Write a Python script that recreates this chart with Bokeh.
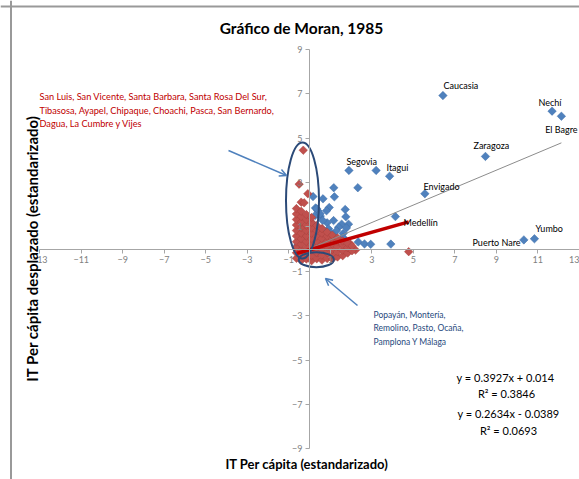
import math
from bokeh.plotting import figure
from bokeh.models import Range1d, FixedTicker, Label, Arrow, OpenHead, Span
from bokeh.embed import file_html
from bokeh.resources import INLINE

# ---------------- data ----------------
title_text = "Gráfico de Moran, 1985"
x_label = "IT Per cápita  (estandarizado)"
y_label = "IT Per cápita desplazado (estandarizado)"

x_ticks = [-13, -11, -9, -7, -5, -3, -1, 1, 3, 5, 7, 9, 11, 13]
y_ticks = [-9, -7, -5, -3, -1, 1, 3, 5, 7, 9]

# blue series (1985)
blue_x = [6.43, 11.69, 12.14, 8.48, 1.90, 3.21, 3.86, 1.17, 2.33, 5.56,
          0.17, 0.65, 1.20, 0.29, 0.40, 0.95, 0.82, 1.72, 0.52, 1.75,
          4.14, 0.85, 1.55, 1.88, 0.62, 1.40, 1.78, 1.17, 1.62, 1.62,
          2.35, 2.65, 2.95, 3.92, 10.33, 10.84, 0.35, 0.27, 0.51, 0.64,
          0.92, 1.16, 1.30, 1.05, -0.55, -0.20, 0.10, 0.40, 0.20, 0.70,
          -0.40, 0.00, -0.62]
blue_y = [6.91, 6.21, 5.98, 4.17, 3.54, 3.54, 3.28, 2.76, 2.76, 2.49,
          2.36, 2.26, 2.35, 1.85, 1.72, 1.87, 1.72, 1.78, 1.48, 1.45,
          1.46, 1.18, 1.12, 1.12, 0.90, 0.98, 0.95, 0.60, 0.70, 0.52,
          0.32, 0.23, 0.21, 0.22, 0.41, 0.46, 1.81, 1.51, 1.59, 1.28,
          0.91, 1.28, 0.82, 0.72, 0.20, 0.60, 0.30, -0.20, 1.10, 0.40,
          -0.30, 0.80, 0.10]

# red series
red_x = [-0.30, -0.50, -0.08, -0.40, -0.26, 1.97, 2.22, 4.78, -0.53, -0.47,
         -0.63, -0.63, -0.63, -0.63, -0.63, -0.63, -0.63, -0.63, -0.63, -0.63,
         -0.40, -0.40, -0.40, -0.40, -0.40, -0.40, -0.40, -0.40, -0.40, -0.40,
         -0.15, -0.15, -0.15, -0.15, -0.15, -0.15, -0.15, -0.15, -0.15,
         0.10, 0.10, 0.10, 0.10, 0.10, 0.10, 0.10, 0.10, 0.10,
         0.35, 0.35, 0.35, 0.35, 0.35, 0.35, 0.35,
         0.60, 0.60, 0.60, 0.60, 0.60, 0.60, 0.60,
         0.85, 0.85, 0.85, 0.85, 0.85, 0.85,
         1.10, 1.10, 1.10, 1.10, 1.10, 1.10,
         1.35, 1.35, 1.35, 1.35, 1.35,
         1.60, 1.60, 1.60, 1.60,
         1.84, 1.84, 1.84,
         2.05, 2.05]
red_y = [4.45, 2.92, 2.49, 2.11, 2.08, 0.22, -0.05, -0.12, 1.62, 1.28,
         -0.42, -0.17, 0.08, 0.33, 0.58, 0.83, 1.08, 1.33, 1.58, 1.82,
         -0.52, -0.29, -0.04, 0.21, 0.46, 0.71, 0.96, 1.21, 1.46, 1.70,
         -0.45, -0.18, 0.07, 0.33, 0.58, 0.83, 1.07, 1.32, 1.55,
         -0.53, -0.29, -0.04, 0.21, 0.46, 0.71, 0.95, 1.20, 1.42,
         -0.44, -0.17, 0.08, 0.34, 0.58, 0.82, 1.06,
         -0.50, -0.28, -0.03, 0.22, 0.47, 0.71, 0.92,
         -0.43, -0.16, 0.09, 0.34, 0.58, 0.76,
         -0.45, -0.27, -0.02, 0.22, 0.45, 0.62,
         -0.36, -0.12, 0.12, 0.36, 0.50,
         -0.30, -0.05, 0.18, 0.36,
         -0.18, 0.06, 0.26,
         -0.08, 0.14]

blue_slope, blue_intercept, blue_r2 = 0.3927, 0.014, 0.3846
red_slope, red_intercept, red_r2 = 0.2634, -0.0389, 0.0693

named_points = ["Caucasia", "Nechí", "El Bagre", "Zaragoza", "Segovia", "Itagui",
                "Envigado", "Medellín", "Yumbo", "Puerto Nare"]

red_note = ["San Luis, San Vicente, Santa Barbara, Santa Rosa Del Sur,",
            "Tibasosa, Ayapel, Chipaque, Choachi, Pasca, San Bernardo,",
            "Dagua, La Cumbre y Vijes"]
blue_note = ["Popayán, Montería,",
             "Remolino, Pasto, Ocaña,",
             "Pamplona Y Málaga"]

# ---------------- layout helpers (canvas pixels -> data) ----------------
W, H = 579, 479
X0, SX = 309.0, 20.75   # canvas x of data 0, px per unit
Y0, SY = 248.5, 22.2    # canvas y of data 0, px per unit


def dx(px):
    return (px - X0) / SX


def dy(py):
    return (Y0 - py) / SY


p = figure(width=W, height=H, output_backend="svg", toolbar_location=None, tools="",
           x_range=Range1d(dx(0), dx(W)), y_range=Range1d(dy(H), dy(0)),
           min_border=0, min_border_left=0, min_border_right=0,
           min_border_top=0, min_border_bottom=0)
p.title.visible = False
p.xgrid.visible = False
p.ygrid.visible = False
p.outline_line_color = None
p.background_fill_color = "white"

FONT = "Lato"
for ax in (p.xaxis, p.yaxis):
    ax.fixed_location = 0
    ax.axis_line_color = "#a6a6a6"
    ax.major_tick_line_color = "#a6a6a6"
    ax.major_tick_out = 4
    ax.major_tick_in = 0
    ax.minor_tick_line_color = None
    ax.major_label_text_font = FONT
    ax.major_label_text_font_size = "9px"
    ax.major_label_text_color = "#808080"
    ax.major_label_standoff = 3
p.xaxis.ticker = FixedTicker(ticks=x_ticks)
p.yaxis.ticker = FixedTicker(ticks=y_ticks)
p.xaxis.bounds = (x_ticks[0], x_ticks[-1])
p.yaxis.bounds = (y_ticks[0], y_ticks[-1])

# chart border (top and left visible in reference)
p.add_layout(Span(location=dy(6), dimension="width", line_color="#999999", line_width=2))
p.add_layout(Span(location=dx(10.5), dimension="height", line_color="#999999", line_width=2))

# points
p.scatter(blue_x, blue_y, marker="square", angle=math.pi / 4, size=6,
          fill_color="#4f81bd", line_color="#3f6fa8", line_width=0.5)
p.scatter(red_x, red_y, marker="square", angle=math.pi / 4, size=6,
          fill_color="#c0504d", line_color="#a8403d", line_width=0.5)

# trendlines
bx = [min(blue_x), max(blue_x)]
p.line(bx, [blue_slope * v + blue_intercept for v in bx], line_color="#8c8c8c", line_width=1)
rx = [min(red_x), max(red_x)]
p.line(rx, [red_slope * v + red_intercept for v in rx], line_color="#c00000", line_width=3.5)

# ellipses
p.ellipse(x=[dx(302), dx(315.8)], y=[dy(200), dy(259.2)],
          width=[33 / SX, 35 / SX], height=[116 / SY, 15 / SY],
          fill_alpha=0, line_color="#2b4a78", line_width=2)

# arrows
for (x1, y1, x2, y2) in [(228, 150, 286, 175), (357, 305, 325, 278)]:
    p.add_layout(Arrow(end=OpenHead(size=7, line_color="#4f81bd", line_width=1.5),
                       x_start=dx(x1), y_start=dy(y1), x_end=dx(x2), y_end=dy(y2),
                       line_color="#4f81bd", line_width=1.5))

# named point labels (anchor x, middle y in canvas pixels)
label_pos = [(443, 85, "left"), (538, 102, "left"), (577, 129, "right"), (473, 145, "left"),
             (346, 161, "left"), (386, 167, "left"), (423, 186, "left"), (403, 222, "left"),
             (535, 228, "left"), (472, 242, "left")]
for name, (lx, ly, al) in zip(named_points, label_pos):
    p.add_layout(Label(x=dx(lx), y=dy(ly), text=name, text_font=FONT, text_font_size="9px",
                       text_color="black", text_align=al, text_baseline="middle"))

# notes
for i, t in enumerate(red_note):
    p.add_layout(Label(x=dx(39), y=dy(96 + 13.5 * i), text=t, text_font=FONT, text_font_size="9.2px",
                       text_color="#c00000", text_align="left", text_baseline="middle"))
for i, t in enumerate(blue_note):
    p.add_layout(Label(x=dx(373), y=dy(314 + 13.5 * i), text=t, text_font=FONT, text_font_size="8.5px",
                       text_color="#1f497d", text_align="left", text_baseline="middle"))

# equations
eqs = [f"y = {blue_slope}x + {blue_intercept}", f"R² = {blue_r2}",
       f"y = {red_slope}x - {abs(red_intercept)}", f"R² = {red_r2}"]
eq_pos = [(505, 377), (506, 393), (508, 413), (508, 430)]
for t, (ex, ey) in zip(eqs, eq_pos):
    p.add_layout(Label(x=dx(ex), y=dy(ey), text=t, text_font=FONT, text_font_size="11px",
                       text_color="black", text_align="center", text_baseline="middle"))

# title and axis titles
p.add_layout(Label(x=dx(301), y=dy(27), text=title_text, text_font=FONT, text_font_size="15.5px",
                   text_font_style="bold", text_color="black", text_align="center", text_baseline="middle"))
p.add_layout(Label(x=dx(308), y=dy(463), text=x_label, text_font=FONT, text_font_size="13px",
                   text_font_style="bold", text_color="black", text_align="center", text_baseline="middle"))
p.add_layout(Label(x=dx(31), y=dy(248), text=y_label, text_font=FONT, text_font_size="15px",
                   text_font_style="bold", text_color="black", text_align="center", text_baseline="middle",
                   angle=math.pi / 2))

open("out.html", "w").write(file_html(p, INLINE))
